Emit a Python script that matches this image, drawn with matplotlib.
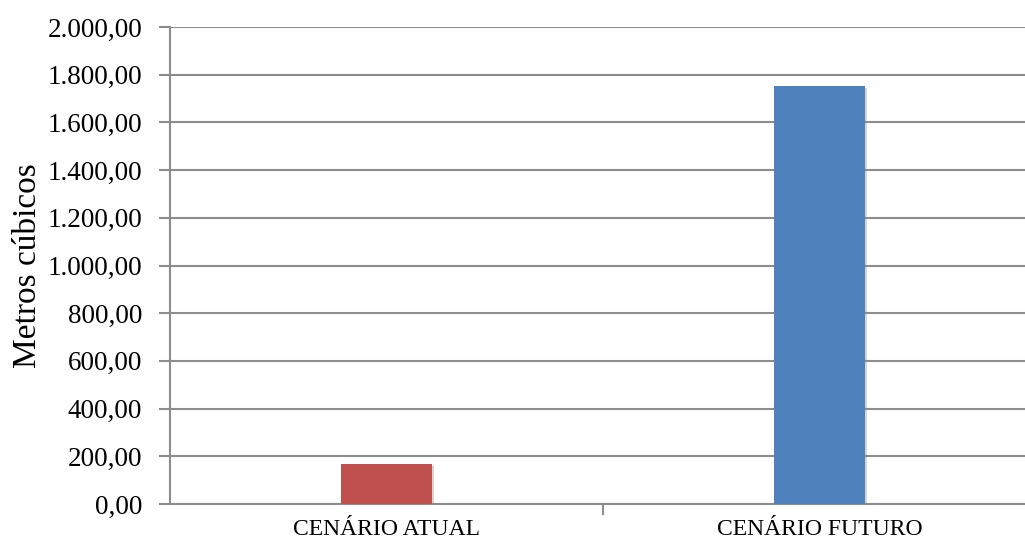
import matplotlib
matplotlib.use("Agg")
import matplotlib.pyplot as plt
import matplotlib.patheffects as pe
from matplotlib.ticker import FuncFormatter

cenarios = ["CENÁRIO ATUAL", "CENÁRIO FUTURO"]
volumes = [168, 1753]
cores = ["#c0504d", "#4f81bd"]

plt.rcParams["font.family"] = ["Liberation Serif", "DejaVu Serif"]

fig = plt.figure(figsize=(10.25, 5.43), dpi=100)
ax = fig.add_axes([170 / 1025, 39 / 543, 866 / 1025, 477 / 543])

x = range(len(cenarios))
bars = ax.bar(x, volumes, width=0.21, color=cores, zorder=3)
for b in bars:  # light drop shadow under each bar
    b.set_path_effects([pe.SimplePatchShadow(offset=(1.5, -1.5), shadow_rgbFace="#888888", alpha=0.35), pe.Normal()])

ax.set_xlim(-0.5, 1.5)
ax.set_ylim(0, 2000)
ax.set_yticks(range(0, 2001, 200))
ax.yaxis.set_major_formatter(FuncFormatter(
    lambda v, p: f"{v:,.2f}".replace(",", "X").replace(".", ",").replace("X", ".")))
ax.grid(axis="y", color="#8c8c8c", linewidth=1.5, zorder=0)

ax.set_xticks([0.5, 1.5])
ax.set_xticklabels([])
ax.set_xticks(list(x), minor=True)
ax.set_xticklabels(cenarios, minor=True, fontsize=17)
ax.tick_params(axis="x", which="minor", length=0, pad=11)
ax.tick_params(axis="x", which="major", length=8, width=1.5, color="#8c8c8c")
ax.tick_params(axis="y", length=8, width=1.5, color="#8c8c8c", labelsize=19.5, pad=12)

for s in ["top", "right"]:
    ax.spines[s].set_visible(False)
ax.spines["left"].set_color("#8c8c8c")
ax.spines["left"].set_linewidth(1.5)
ax.spines["bottom"].set_color("#8c8c8c")
ax.spines["bottom"].set_linewidth(1.5)

ax.set_ylabel("Metros cúbicos", fontsize=24, labelpad=3)

fig.savefig("out.png", dpi=100)
